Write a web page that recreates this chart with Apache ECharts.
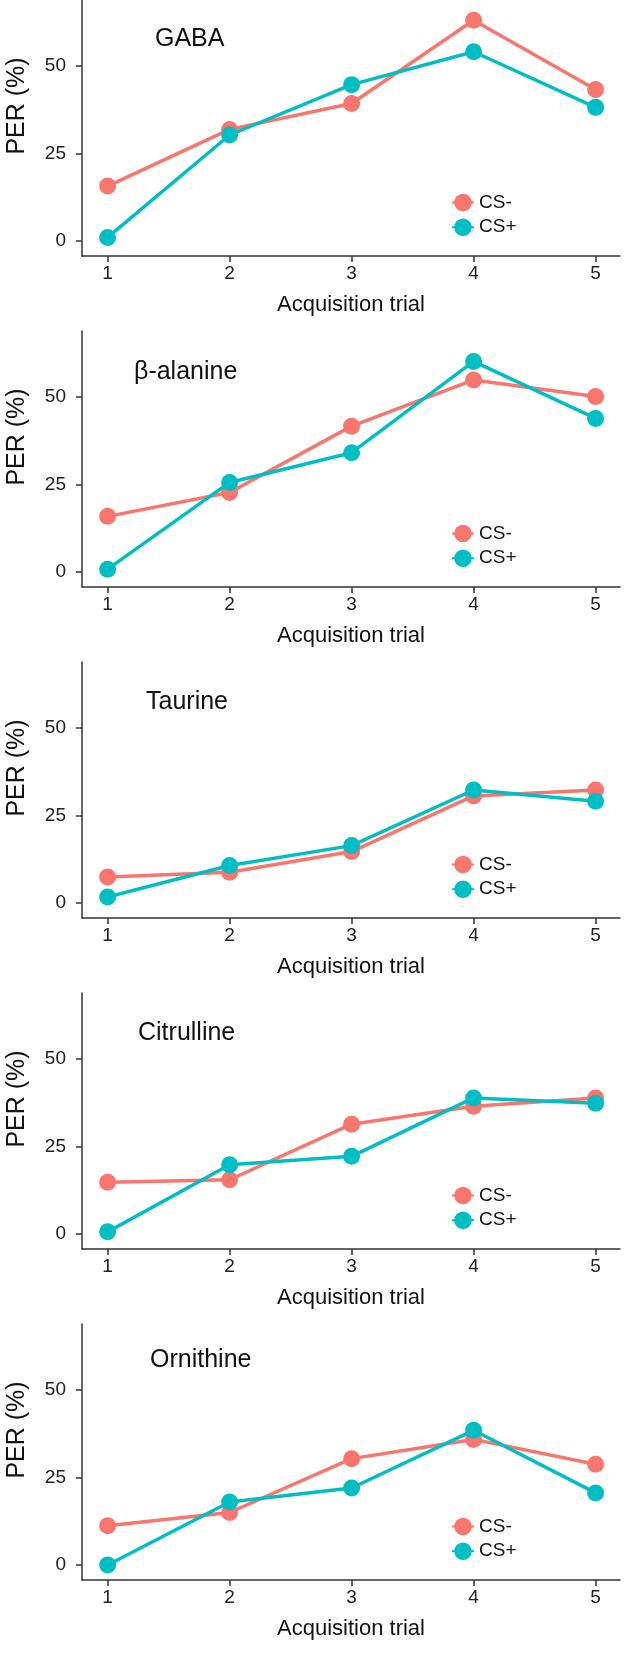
<!DOCTYPE html>
<html>
<head>
<meta charset="utf-8">
<script src="https://cdn.jsdelivr.net/npm/echarts@6/dist/echarts.min.js"></script>
<style>
  html, body { margin: 0; padding: 0; background: #ffffff; }
  #chart { width: 624px; height: 1653px; }
</style>
</head>
<body>
<div id="chart"></div>
<script>
// ---- data ----
const trials = [1, 2, 3, 4, 5];
const panelNames = ['GABA', 'β-alanine', 'Taurine', 'Citrulline', 'Ornithine'];
const gabaMinus = [15.7, 31.9, 39.3, 63.1, 43.3];
const gabaPlus = [1.0, 30.3, 44.7, 54.1, 38.2];
const alanineMinus = [15.9, 22.7, 41.7, 54.9, 50.2];
const alaninePlus = [0.8, 25.6, 34.1, 60.2, 43.9];
const taurineMinus = [7.4, 8.8, 14.7, 30.6, 32.3];
const taurinePlus = [1.7, 10.7, 16.4, 32.3, 29.1];
const citrullineMinus = [14.8, 15.5, 31.4, 36.5, 38.9];
const citrullinePlus = [0.6, 19.8, 22.2, 38.9, 37.4];
const ornithineMinus = [11.2, 15.0, 30.4, 35.9, 28.8];
const ornithinePlus = [0.0, 18.0, 22.0, 38.5, 20.6];
const yTicks = [0, 25, 50];
const seriesNames = ['CS-', 'CS+'];
const yTitle = 'PER (%)';
const xTitle = 'Acquisition trial';

const minusData = [gabaMinus, alanineMinus, taurineMinus, citrullineMinus, ornithineMinus];
const plusData = [gabaPlus, alaninePlus, taurinePlus, citrullinePlus, ornithinePlus];

// ---- layout ----
const colors = ['#F8766D', '#00BFC4'];
const FONT = "'Liberation Sans', Arial, Helvetica, sans-serif";
const panelTops = [0, 331, 662, 993, 1324];
const titleLeft = [155, 134, 146, 138, 150];
const titleMid = [39, 41, 40, 40, 36];
const gridH = 256;

const chart = echarts.init(document.getElementById('chart'), null, { renderer: 'canvas' });

const grids = [], xAxes = [], yAxes = [], series = [], legends = [], titles = [], graphics = [];

panelNames.forEach((name, i) => {
  const top = panelTops[i];
  grids.push({ left: 82, top: top, width: 538, height: gridH, containLabel: false });
  xAxes.push({
    type: 'value', gridIndex: i, min: 0.79, max: 5.2,
    axisLine: { show: true, onZero: false, lineStyle: { color: '#333', width: 1.5 } },
    axisTick: { show: true, length: 6, customValues: trials, lineStyle: { color: '#333', width: 1.5 } },
    axisLabel: { customValues: trials, margin: 8, color: '#222', fontSize: 19, fontFamily: FONT },
    splitLine: { show: false },
    name: xTitle, nameLocation: 'middle', nameGap: 38,
    nameTextStyle: { color: '#111', fontSize: 22, fontFamily: FONT }
  });
  yAxes.push({
    type: 'value', gridIndex: i, min: -4.3, max: 68.9,
    axisLine: { show: true, onZero: false, lineStyle: { color: '#333', width: 1.5 } },
    axisTick: { show: true, length: 6, customValues: yTicks, lineStyle: { color: '#333', width: 1.5 } },
    axisLabel: { customValues: yTicks, margin: 16, color: '#222', fontSize: 19, fontFamily: FONT },
    splitLine: { show: false }
  });
  [minusData[i], plusData[i]].forEach((vals, s) => {
    series.push({
      type: 'line', name: seriesNames[s], xAxisIndex: i, yAxisIndex: i,
      data: trials.map((t, k) => [t, vals[k]]),
      symbol: 'circle', symbolSize: 17,
      lineStyle: { color: colors[s], width: 3.5 },
      itemStyle: { color: colors[s] },
      z: 2 + s,
      animation: false
    });
  });
  legends.push({
    data: seriesNames, orient: 'vertical', left: 451, top: top + 193,
    padding: 0,
    itemWidth: 22, itemHeight: 22, itemGap: 5.7,
    textStyle: { color: '#111', fontSize: 19, fontFamily: FONT },
    selectedMode: false
  });
  titles.push({
    text: name, left: titleLeft[i], top: top + titleMid[i] - 12.5, padding: 0,
    textStyle: { color: '#111', fontSize: 25, fontWeight: 'normal', fontFamily: FONT }
  });
  graphics.push({
    type: 'text', x: 17, y: top + 106, rotation: Math.PI / 2,
    style: { text: yTitle, fill: '#111', font: '25px ' + FONT, textAlign: 'center', textVerticalAlign: 'middle' }
  });
});

chart.setOption({
  backgroundColor: '#ffffff',
  animation: false,
  title: titles,
  legend: legends,
  grid: grids,
  xAxis: xAxes,
  yAxis: yAxes,
  series: series,
  graphic: graphics
});
</script>
</body>
</html>
